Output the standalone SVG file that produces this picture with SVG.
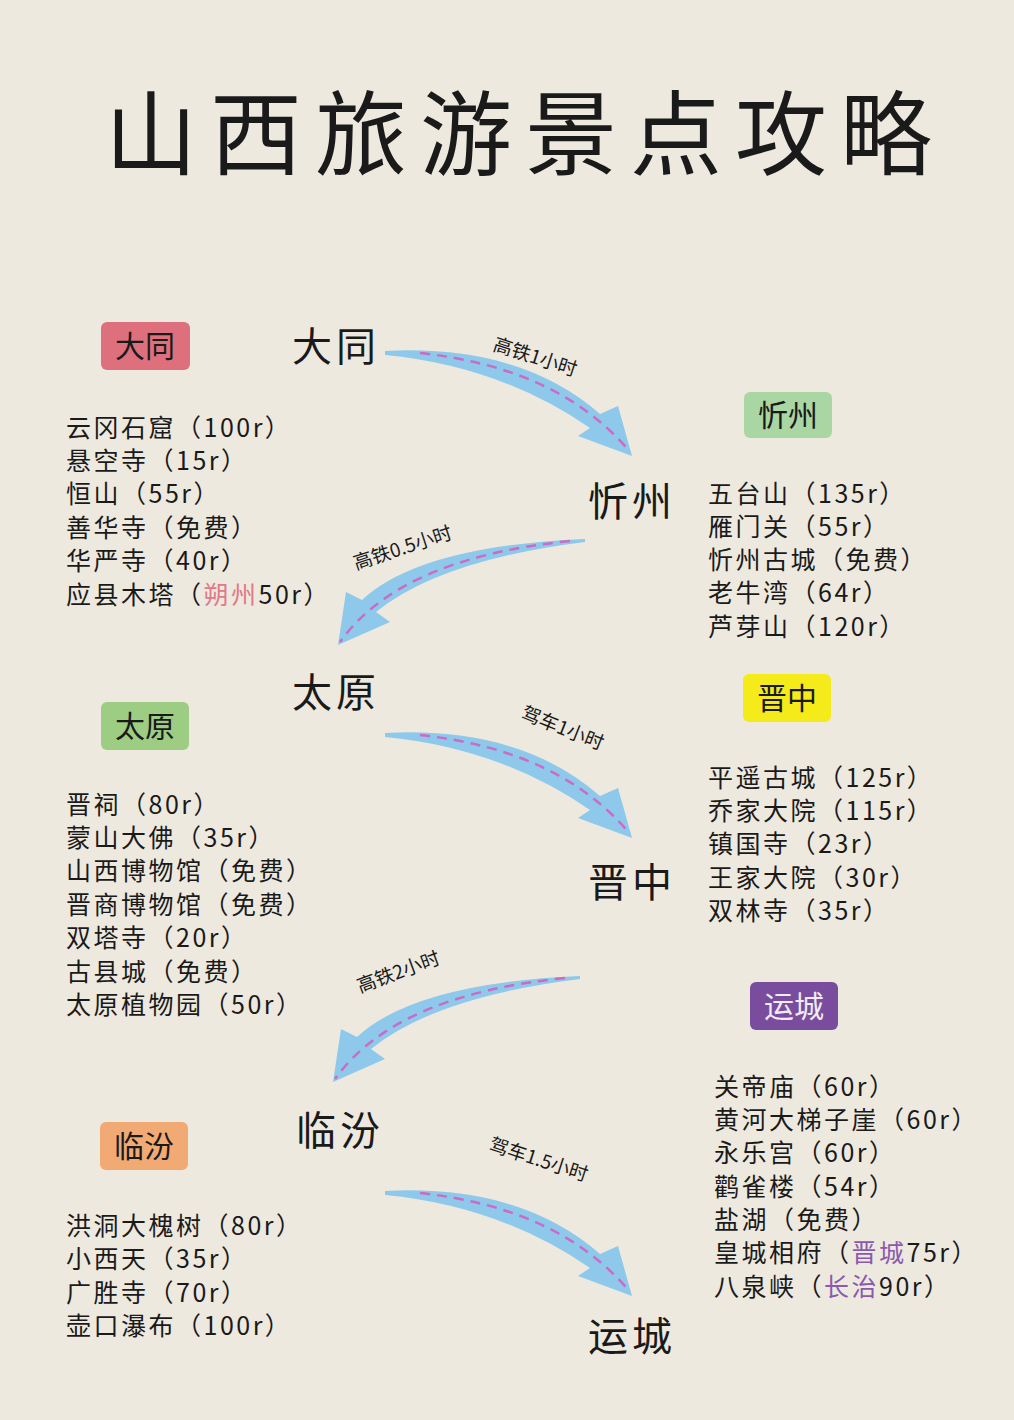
<svg xmlns="http://www.w3.org/2000/svg" width="1014" height="1420" viewBox="0 0 1014 1420">
<style>
.t{font-family:"Noto Sans CJK SC","Liberation Sans",sans-serif;fill:#1a1a1a}
.city{font-size:40px;letter-spacing:4px}
.li{font-size:25px;letter-spacing:2.5px}
.lab{font-size:19px}
.bd{font-size:30px;text-anchor:middle}
.arr{fill:#8ec9ec}
.dash{fill:none;stroke:#c86cc4;stroke-width:2.5;stroke-dasharray:10 7}
</style>
<defs>
<g id="aR">
<path class="arr" d="M385,351 Q520,344 600,414 L618,406 L632,456 L578,436 L590,428 Q500,366 385,355 Z"/>
<path class="dash" d="M420,353 Q560,368 630,452"/>
</g>
<g id="aL">
<path class="arr" d="M585,539 Q420,546 362,600 L346,592 L338,645 L390,622 L376,612 Q440,560 585,542 Z"/>
<path class="dash" d="M570,541 Q400,558 340,642"/>
</g>
</defs>
<rect width="1014" height="1420" fill="#ede9df"/>
<text class="t" x="105" y="168" font-size="92" letter-spacing="13">山西旅游景点攻略</text>
<g id="connectors">
<use href="#aR"/>
<use href="#aL"/>
<use href="#aR" transform="translate(0,382)"/>
<use href="#aL" transform="translate(-5,437)"/>
<use href="#aR" transform="translate(0,840)"/>
<text class="t lab" transform="translate(492,350) rotate(18)">高铁1小时</text>
<text class="t lab" transform="translate(356,570) rotate(-18)">高铁0.5小时</text>
<text class="t lab" transform="translate(520,718) rotate(22)">驾车1小时</text>
<text class="t lab" transform="translate(360,993) rotate(-20)">高铁2小时</text>
<text class="t lab" transform="translate(488,1150) rotate(18)">驾车1.5小时</text>
</g>
<g id="datong">
<rect x="101" y="322" width="89" height="48" rx="6" fill="#dd707c"/>
<text class="t bd" x="145" y="357">大同</text>
<text class="t city" x="292" y="361">大同</text>
<text class="t li" x="66" y="437">云冈石窟（100r）</text>
<text class="t li" x="66" y="470">悬空寺（15r）</text>
<text class="t li" x="66" y="503">恒山（55r）</text>
<text class="t li" x="66" y="537">善华寺（免费）</text>
<text class="t li" x="66" y="570">华严寺（40r）</text>
<text class="t li" x="66" y="604">应县木塔（<tspan fill="#e07a88">朔州</tspan>50r）</text>
</g>
<g id="xinzhou">
<rect x="744" y="392" width="88" height="46" rx="6" fill="#a9d6a2"/>
<text class="t bd" x="788" y="426">忻州</text>
<text class="t city" x="588" y="516">忻州</text>
<text class="t li" x="708" y="503">五台山（135r）</text>
<text class="t li" x="708" y="536">雁门关（55r）</text>
<text class="t li" x="708" y="569">忻州古城（免费）</text>
<text class="t li" x="708" y="602">老牛湾（64r）</text>
<text class="t li" x="708" y="636">芦芽山（120r）</text>
</g>
<g id="taiyuan">
<rect x="101" y="702" width="88" height="48" rx="6" fill="#9dcd82"/>
<text class="t bd" x="145" y="737">太原</text>
<text class="t city" x="292" y="707">太原</text>
<text class="t li" x="66" y="814">晋祠（80r）</text>
<text class="t li" x="66" y="847">蒙山大佛（35r）</text>
<text class="t li" x="66" y="880">山西博物馆（免费）</text>
<text class="t li" x="66" y="914">晋商博物馆（免费）</text>
<text class="t li" x="66" y="947">双塔寺（20r）</text>
<text class="t li" x="66" y="981">古县城（免费）</text>
<text class="t li" x="66" y="1014">太原植物园（50r）</text>
</g>
<g id="jinzhong">
<rect x="743" y="674" width="88" height="48" rx="6" fill="#f5eb1a"/>
<text class="t bd" x="787" y="709">晋中</text>
<text class="t city" x="588" y="897">晋中</text>
<text class="t li" x="708" y="787">平遥古城（125r）</text>
<text class="t li" x="708" y="820">乔家大院（115r）</text>
<text class="t li" x="708" y="853">镇国寺（23r）</text>
<text class="t li" x="708" y="887">王家大院（30r）</text>
<text class="t li" x="708" y="920">双林寺（35r）</text>
</g>
<g id="yuncheng">
<rect x="750" y="982" width="88" height="48" rx="6" fill="#7a4c9e"/>
<text class="t bd" x="794" y="1017" style="fill:#f0ecf4">运城</text>
<text class="t city" x="588" y="1351">运城</text>
<text class="t li" x="714" y="1096">关帝庙（60r）</text>
<text class="t li" x="714" y="1129">黄河大梯子崖（60r）</text>
<text class="t li" x="714" y="1162">永乐宫（60r）</text>
<text class="t li" x="714" y="1196">鹳雀楼（54r）</text>
<text class="t li" x="714" y="1229">盐湖（免费）</text>
<text class="t li" x="714" y="1262">皇城相府（<tspan fill="#8a5ab0">晋城</tspan>75r）</text>
<text class="t li" x="714" y="1296">八泉峡（<tspan fill="#8a5ab0">长治</tspan>90r）</text>
</g>
<g id="linfen">
<rect x="100" y="1122" width="88" height="48" rx="6" fill="#f1aa74"/>
<text class="t bd" x="144" y="1157">临汾</text>
<text class="t city" x="296" y="1145">临汾</text>
<text class="t li" x="66" y="1235">洪洞大槐树（80r）</text>
<text class="t li" x="66" y="1268">小西天（35r）</text>
<text class="t li" x="66" y="1302">广胜寺（70r）</text>
<text class="t li" x="66" y="1335">壶口瀑布（100r）</text>
</g>
</svg>
